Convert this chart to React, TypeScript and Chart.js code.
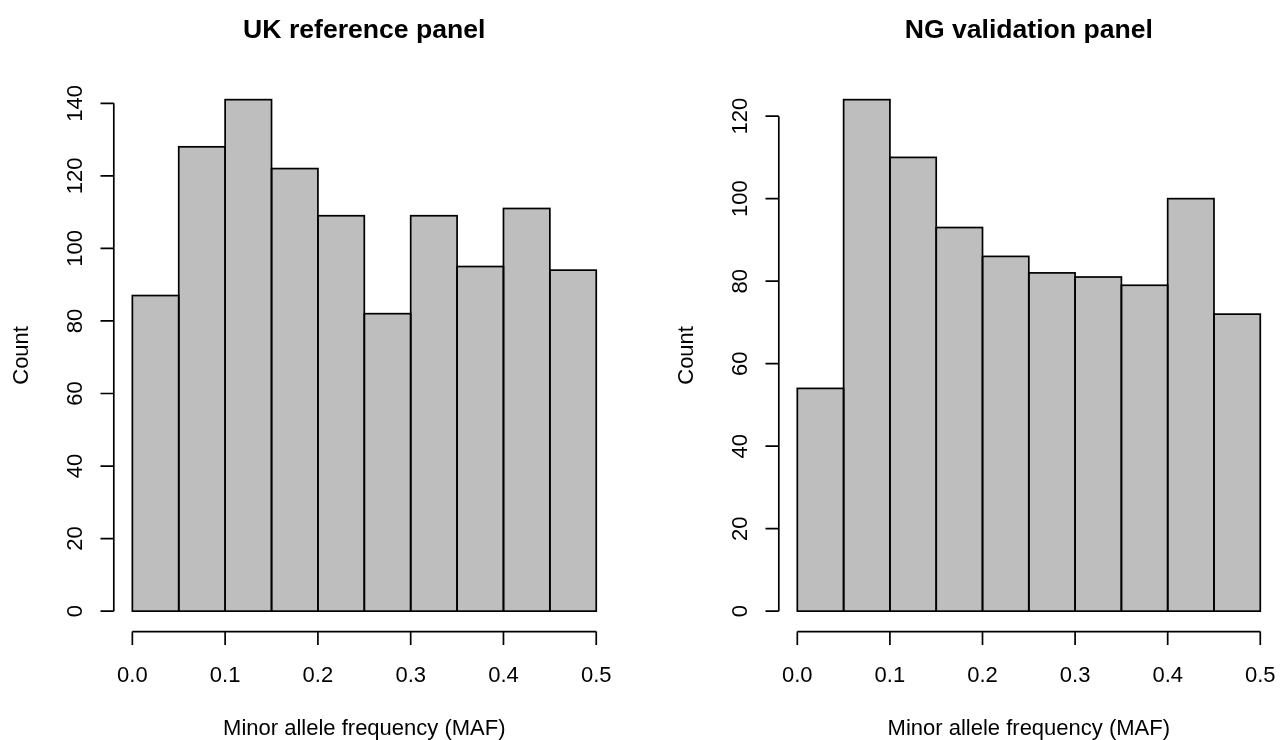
import React, { useEffect, useRef } from "react";
import { Chart, registerables } from "chart.js";

Chart.register(...registerables);

// Histogram bins (minor allele frequency) and counts per panel
const binEdges = [0, 0.05, 0.1, 0.15, 0.2, 0.25, 0.3, 0.35, 0.4, 0.45, 0.5];
const ukCounts = [87, 128, 141, 122, 109, 82, 109, 95, 111, 94];
const ngCounts = [54, 124, 110, 93, 86, 82, 81, 79, 100, 72];

// Axis ticks
const mafTicks = [0, 0.1, 0.2, 0.3, 0.4, 0.5];
const mafTickLabels = ["0.0", "0.1", "0.2", "0.3", "0.4", "0.5"];
const ukCountTicks = [0, 20, 40, 60, 80, 100, 120, 140];
const ngCountTicks = [0, 20, 40, 60, 80, 100, 120];

const xTitle = "Minor allele frequency (MAF)";
const yTitle = "Count";

const FONT = '"Liberation Sans", Arial, Helvetica, sans-serif';
const INK = "#000000";
const BAR_FILL = "#BEBEBE";
const LINE_W = 1.7;
const TICK_LEN = 13.3;

type PanelProps = {
  title: string;
  counts: number[];
  yTicks: number[];
  left: number;
  width: number;
  pad: { left: number; right: number; top: number; bottom: number };
};

function Panel({ title, counts, yTicks, left, width, pad }: PanelProps) {
  const ref = useRef<HTMLCanvasElement | null>(null);

  useEffect(() => {
    const canvas = ref.current;
    if (!canvas) return;

    const centers = counts.map((_, i) => (binEdges[i] + binEdges[i + 1]) / 2);
    const xLo = binEdges[0];
    const xHi = binEdges[binEdges.length - 1];
    const xPad = (xHi - xLo) * 0.04;
    const yMax = Math.max(...counts);

    // outlines drawn centred on the bar edges so neighbours share one line
    const barOutline = {
      id: "barOutline",
      afterDatasetsDraw(chart: any) {
        const ctx = chart.ctx;
        const meta = chart.getDatasetMeta(0);
        ctx.save();
        ctx.strokeStyle = INK;
        ctx.lineWidth = LINE_W;
        meta.data.forEach((el: any) => {
          const p = el.getProps(["x", "y", "base", "width"], true);
          ctx.strokeRect(p.x - p.width / 2, p.y, p.width, p.base - p.y);
        });
        ctx.restore();
      },
    };

    // detached base-graphics style axes, axis titles and main title
    const baseAxes = {
      id: "baseAxes",
      afterDraw(chart: any) {
        const ctx = chart.ctx;
        const { left: l, right: r, top: t, bottom: b } = chart.chartArea;
        const xs = chart.scales.x;
        const ys = chart.scales.y;
        ctx.save();
        ctx.strokeStyle = INK;
        ctx.fillStyle = INK;
        ctx.lineWidth = LINE_W;

        // x axis
        const xa = xs.getPixelForValue(mafTicks[0]);
        const xb = xs.getPixelForValue(mafTicks[mafTicks.length - 1]);
        ctx.beginPath();
        ctx.moveTo(xa, b);
        ctx.lineTo(xb, b);
        mafTicks.forEach((v) => {
          const px = xs.getPixelForValue(v);
          ctx.moveTo(px, b);
          ctx.lineTo(px, b + TICK_LEN);
        });
        // y axis
        const ya = ys.getPixelForValue(yTicks[0]);
        const yb = ys.getPixelForValue(yTicks[yTicks.length - 1]);
        ctx.moveTo(l, ya);
        ctx.lineTo(l, yb);
        yTicks.forEach((v) => {
          const py = ys.getPixelForValue(v);
          ctx.moveTo(l, py);
          ctx.lineTo(l - TICK_LEN, py);
        });
        ctx.stroke();

        ctx.font = `22px ${FONT}`;
        ctx.textAlign = "center";
        ctx.textBaseline = "alphabetic";
        mafTicks.forEach((v, i) => {
          ctx.fillText(mafTickLabels[i], xs.getPixelForValue(v), b + 50.5);
        });
        yTicks.forEach((v) => {
          ctx.save();
          ctx.translate(l - 32, ys.getPixelForValue(v));
          ctx.rotate(-Math.PI / 2);
          ctx.fillText(String(v), 0, 0);
          ctx.restore();
        });

        ctx.fillText(xTitle, (l + r) / 2, b + 103.5);
        ctx.save();
        ctx.translate(l - 85.5, (t + b) / 2);
        ctx.rotate(-Math.PI / 2);
        ctx.fillText(yTitle, 0, 0);
        ctx.restore();

        ctx.font = `bold 26.6px ${FONT}`;
        ctx.fillText(title, (l + r) / 2, 38);
        ctx.restore();
      },
    };

    const chart = new Chart(canvas, {
      type: "bar",
      data: {
        datasets: [
          {
            data: centers.map((c, i) => ({ x: c, y: counts[i] })),
            backgroundColor: BAR_FILL,
            borderWidth: 0,
            barPercentage: 1,
            categoryPercentage: 1,
          },
        ],
      },
      options: {
        responsive: false,
        animation: false,
        devicePixelRatio: 1,
        layout: { padding: pad },
        plugins: {
          legend: { display: false },
          title: { display: false },
          tooltip: { enabled: false },
        },
        scales: {
          x: {
            type: "linear",
            display: false,
            offset: false,
            min: xLo - xPad,
            max: xHi + xPad,
            afterBuildTicks: (scale: any) => {
              scale.ticks = mafTicks.map((v) => ({ value: v }));
            },
          },
          y: {
            type: "linear",
            display: false,
            min: -0.04 * yMax,
            max: 1.04 * yMax,
            afterBuildTicks: (scale: any) => {
              scale.ticks = yTicks.map((v) => ({ value: v }));
            },
          },
        },
      },
      plugins: [barOutline, baseAxes],
    });

    return () => chart.destroy();
  }, [title, counts, yTicks, pad]);

  return (
    <canvas
      ref={ref}
      width={width}
      height={740}
      style={{ position: "absolute", left, top: 0, width, height: 740, display: "block" }}
    />
  );
}

const ukPad = { left: 113.8, right: 26.2, top: 79.2, bottom: 108.4 };
const ngPad = { left: 137.8, right: 4.2, top: 79.2, bottom: 108.4 };

export default function App() {
  return (
    <div
      style={{
        position: "absolute",
        left: 0,
        top: 0,
        width: 1283,
        height: 740,
        background: "#ffffff",
        overflow: "hidden",
      }}
    >
      <Panel title="UK reference panel" counts={ukCounts} yTicks={ukCountTicks} left={0} width={641} pad={ukPad} />
      <Panel title="NG validation panel" counts={ngCounts} yTicks={ngCountTicks} left={641} width={642} pad={ngPad} />
    </div>
  );
}
